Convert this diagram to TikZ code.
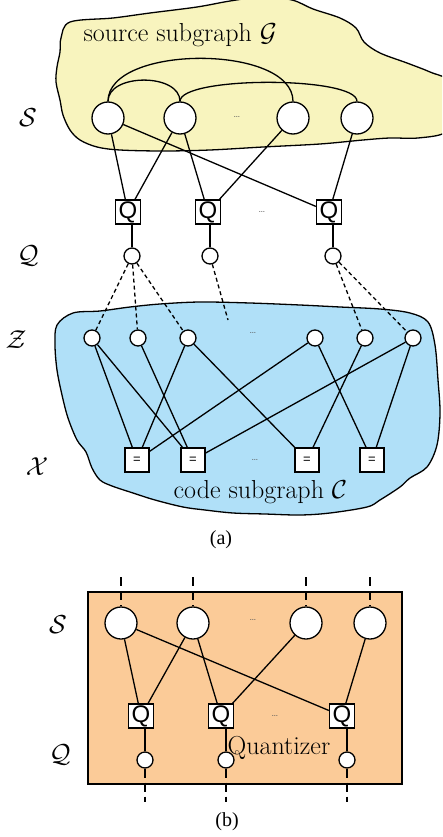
\RequirePackage{fix-cm}
\documentclass[tikz,border=0pt]{standalone}
\usepackage{fontspec}
\newfontfamily\qfont{Liberation Sans}
\newfontfamily\capfont{Liberation Serif}
\definecolor{srcyellow}{RGB}{248,244,190}
\definecolor{codeblue}{RGB}{176,224,248}
\definecolor{quantorange}{RGB}{251,203,152}
\begin{document}
\begin{tikzpicture}[x=1pt,y=-1pt,line width=1.3pt,
  big/.style={circle,draw,fill=white,minimum size=32pt,inner sep=0pt},
  small/.style={circle,draw,fill=white,minimum size=16pt,inner sep=0pt},
  qbox/.style={draw,fill=white,minimum width=25pt,minimum height=24pt,inner sep=0pt,font=\qfont\fontsize{24}{24}\selectfont},
  eqbox/.style={draw,fill=white,minimum width=24pt,minimum height=24pt,inner sep=0pt,font=\qfont\fontsize{13}{13}\selectfont},
  lbl/.style={inner sep=0pt,font=\fontsize{26}{30}\selectfont},
  dotsn/.style={inner sep=0pt,text=black!65,font=\fontsize{11}{11}\selectfont},
  capt/.style={inner sep=0pt,font=\capfont\fontsize{20}{22}\selectfont},
  dsh/.style={dash pattern=on 4pt off 3pt},
  ldsh/.style={dash pattern=on 9pt off 5pt}]
\useasboundingbox (0,0) rectangle (442,837);
\clip (0,0) rectangle (442,837);
% ---------- (a) blobs
\filldraw[fill=srcyellow,draw=black] plot[smooth cycle,tension=0.55] coordinates {
 (70,22) (113,18) (150,13) (197,7) (230,1) (262,-3) (292,0) (313,9) (340,18) (356,28) (364,42)
 (380,53) (407,63) (430,72) (450,82) (452,110) (446,132) (418,138) (390,138) (363,140)
 (320,144) (263,147) (210,150) (163,151) (120,150) (97,147) (80,140) (70,130) (63,115)
 (60,100) (56,82) (57,67) (60,52) (61,38)};
\filldraw[fill=codeblue,draw=black] plot[smooth cycle,tension=0.55] coordinates {
 (73,313) (100,311) (130,307) (160,304) (200,302) (250,303) (300,305) (340,307) (380,309)
 (410,313) (428,322) (435,345) (438,380) (440,413) (437,445) (427,467) (410,478) (400,487)
 (380,500) (367,507) (330,513) (300,515) (265,514) (233,513) (205,510) (183,507) (155,500)
 (133,493) (112,486) (100,480) (92,468) (86,452) (77,440) (68,418) (62,395) (57,370)
 (55,345) (57,325)};
% ---------- (a) labels
\node[lbl,anchor=base west] (tsrc) at (83,42) {source subgraph $\mathcal{G}$};
\node[lbl,anchor=base west] (tcode) at (173,498) {code subgraph $\mathcal{C}$};
\node[lbl] (lS) at (28,118) {$\mathcal{S}$};
\node[lbl] (lQ) at (28,256) {$\mathcal{Q}$};
\node[lbl] (lZ) at (16,340) {$\mathcal{Z}$};
\node[lbl] (lX) at (37,467) {$\mathcal{X}$};
% ---------- (a) nodes
\node[big] (S1) at (108,118) {};
\node[big] (S2) at (180,118) {};
\node[big] (S3) at (293,118) {};
\node[big] (S4) at (357,118) {};
\node[dotsn] (dS) at (237,117) {\ldots};
\node[qbox] (Q1) at (128,212) {Q};
\node[qbox] (Q2) at (208,212) {Q};
\node[qbox] (Q3) at (329,212) {Q};
\node[dotsn] (dQ) at (262,212) {\ldots};
\node[small] (q1) at (132,256) {};
\node[small] (q2) at (210,256) {};
\node[small] (q3) at (333,256) {};
\node[small] (Z1) at (92,338) {};
\node[small] (Z2) at (138,338) {};
\node[small] (Z3) at (188,338) {};
\node[small] (Z4) at (315,338) {};
\node[small] (Z5) at (365,338) {};
\node[small] (Z6) at (413,338) {};
\node[dotsn] (dZ) at (253,333) {\ldots};
\coordinate (zmid) at (228,320);
\node[eqbox] (X1) at (137,460) {=};
\node[eqbox] (X2) at (193,460) {=};
\node[eqbox] (X3) at (307,460) {=};
\node[eqbox] (X4) at (372,460) {=};
\node[dotsn] (dX) at (255,460) {\ldots};
% ---------- (a) edges
\draw (S1.north) .. controls (108,44) and (293,44) .. (S3.north);
\draw (S1.north) .. controls (108,73) and (180,73) .. (S2.north);
\draw (S2.north) .. controls (180,76) and (357,76) .. (S4.north);
\draw (S1) -- (Q1);
\draw (S1) -- (Q3);
\draw (S2) -- (Q1);
\draw (S2) -- (Q2);
\draw (S3) -- (Q2);
\draw (S4) -- (Q3);
\draw (q1) -- (q1 |- Q1.south);
\draw (q2) -- (q2 |- Q2.south);
\draw (q3) -- (q3 |- Q3.south);
\draw[dsh] (q1) -- (Z1);
\draw[dsh] (q1) -- (Z2);
\draw[dsh] (q1) -- (Z3);
\draw[dsh] (q2) -- (zmid);
\draw[dsh] (q3) -- (Z5);
\draw[dsh] (q3) -- (Z6);
\draw (Z1) -- (X1);
\draw (Z1) -- (X2);
\draw (Z2) -- (X2);
\draw (Z3) -- (X1);
\draw (Z3) -- (X3);
\draw (Z4) -- (X1);
\draw (Z4) -- (X4);
\draw (Z5) -- (X3);
\draw (Z6) -- (X2);
\draw (Z6) -- (X4);
\node[capt] (capa) at (221,540) {(a)};
% ---------- (b)
\filldraw[fill=quantorange,draw=black] (88,592) rectangle (402,784);
\node[lbl] (lS2) at (58,625) {$\mathcal{S}$};
\node[lbl] (lQ2) at (60,755) {$\mathcal{Q}$};
\node[big] (T1) at (121,623) {};
\node[big] (T2) at (193,623) {};
\node[big] (T3) at (306,623) {};
\node[big] (T4) at (370,623) {};
\node[dotsn] (dT) at (253,620) {\ldots};
\node[qbox] (R1) at (141,716) {Q};
\node[qbox] (R2) at (221,716) {Q};
\node[qbox] (R3) at (342,716) {Q};
\node[dotsn] (dR) at (275,716) {\ldots};
\node[small] (r1) at (145,760) {};
\node[small] (r2) at (226,760) {};
\node[small] (r3) at (347,760) {};
\coordinate (t1) at (121,577);
\coordinate (t2) at (193,577);
\coordinate (t3) at (306,577);
\coordinate (t4) at (370,577);
\coordinate (b1) at (145,802);
\coordinate (b2) at (226,802);
\coordinate (b3) at (347,802);
\draw[ldsh] (t1) -- (T1);
\draw[ldsh] (t2) -- (T2);
\draw[ldsh] (t3) -- (T3);
\draw[ldsh] (t4) -- (T4);
\draw[ldsh] (r1) -- (b1);
\draw[ldsh] (r2) -- (b2);
\draw[ldsh] (r3) -- (b3);
\draw (T1) -- (R1);
\draw (T1) -- (R3);
\draw (T2) -- (R1);
\draw (T2) -- (R2);
\draw (T3) -- (R2);
\draw (T4) -- (R3);
\draw (r1) -- (r1 |- R1.south);
\draw (r2) -- (r2 |- R2.south);
\draw (r3) -- (r3 |- R3.south);
\node[lbl,anchor=base west] (tq) at (227,754) {Quantizer};
\node[capt] (capb) at (227,822) {(b)};
\end{tikzpicture}
\end{document}
